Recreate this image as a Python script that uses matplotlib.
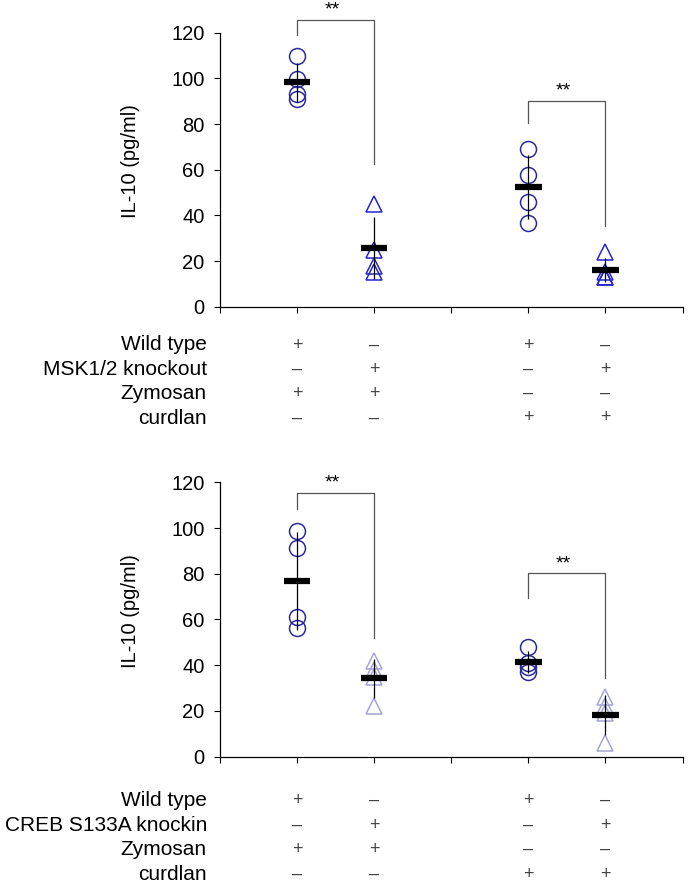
import numpy as np
import matplotlib.pyplot as plt
from matplotlib.transforms import blended_transform_factory

plt.rcParams['font.family'] = ['Liberation Sans', 'DejaVu Sans']

# group positions on the x axis
xpos = [1, 2, 4, 5]

# panel A: MSK1/2 knockout
top_wt_zym = [109.8, 99.9, 93.0, 90.8]
top_ko_zym = [45.0, 25.0, 18.0, 15.0]
top_wt_curd = [68.9, 57.7, 45.7, 36.8]
top_ko_curd = [24.0, 15.0, 13.0, 13.0]

# panel B: CREB S133A knockin
bot_wt_zym = [98.9, 91.2, 61.0, 56.2]
bot_ki_zym = [42.0, 38.0, 35.0, 22.0]
bot_wt_curd = [48.0, 41.0, 39.0, 37.0]
bot_ki_curd = [26.0, 22.0, 19.0, 6.0]

# significance brackets: (x_left, x_right, y_top, y_left_end, y_right_end)
top_brackets = [(1, 2, 125.6, 119.0, 62.5), (4, 5, 90.1, 80.6, 35.3)]
bot_brackets = [(1, 2, 115.5, 108.2, 51.8), (4, 5, 80.2, 69.4, 34.3)]

row_labels_top = ['Wild type', 'MSK1/2 knockout', 'Zymosan', 'curdlan']
row_labels_bot = ['Wild type', 'CREB S133A knockin', 'Zymosan', 'curdlan']
signs = [['+', '\u2013', '+', '\u2013'],
         ['\u2013', '+', '\u2013', '+'],
         ['+', '+', '\u2013', '\u2013'],
         ['\u2013', '\u2013', '+', '+']]

circle_col = '#2a2a9c'
tri_top_col = '#2424cc'
tri_bot_col = '#a4a4d6'

fig = plt.figure(figsize=(6.89, 8.88), dpi=100)
ax1 = fig.add_axes([0.3193, 0.6546, 0.6714, 0.3086])
ax2 = fig.add_axes([0.3193, 0.1479, 0.6714, 0.3090])


def draw_panel(ax, groups, markers, colors, brackets, labels, row_y):
    for x, vals, m, c in zip(xpos, groups, markers, colors):
        ax.plot([x] * len(vals), vals, linestyle='none', marker=m,
                markersize=11.5, markerfacecolor='none', markeredgecolor=c,
                markeredgewidth=1.1, zorder=2, clip_on=False)
        mean = np.mean(vals)
        sd = np.std(vals, ddof=1)
        ax.errorbar(x, mean, yerr=sd, fmt='none', ecolor='black',
                    elinewidth=0.9, capsize=0, zorder=3)
        ax.plot([x - 0.17, x + 0.17], [mean, mean], color='black',
                linewidth=4.5, solid_capstyle='butt', zorder=4)

    for x1, x2, ytop, yl, yr in brackets:
        ax.plot([x1, x1, x2, x2], [yl, ytop, ytop, yr], color='#555555',
                linewidth=0.9, clip_on=False, zorder=1)
        ax.text((x1 + x2) / 2 - 0.05, ytop + 0.5, '**', ha='center',
                va='bottom', fontsize=14, clip_on=False)

    ax.set_xlim(0, 6)
    ax.set_ylim(0, 120)
    ax.set_xticks(range(7))
    ax.set_xticklabels([])
    ax.set_yticks(range(0, 121, 20))
    ax.tick_params(axis='both', direction='out', length=4, width=0.8,
                   labelsize=14.5, pad=7)
    for s in ['top', 'right']:
        ax.spines[s].set_visible(False)
    for s in ['left', 'bottom']:
        ax.spines[s].set_linewidth(0.9)
    ax.set_ylabel('IL-10 (pg/ml)', fontsize=14.5)
    ax.yaxis.set_label_coords(-0.172, 0.53)

    trans = blended_transform_factory(ax.transData, fig.transFigure)
    for i, (lab, y) in enumerate(zip(labels, row_y)):
        fy = 1 - y / 888
        ax.text(-0.17, fy, lab, transform=trans, ha='right', va='center',
                fontsize=15)
        for x, sgn in zip(xpos, signs[i]):
            ax.text(x, fy, sgn, transform=trans, ha='center', va='center',
                    fontsize=13, color='#444444')


draw_panel(ax1, [top_wt_zym, top_ko_zym, top_wt_curd, top_ko_curd],
           ['o', '^', 'o', '^'],
           [circle_col, tri_top_col, circle_col, tri_top_col],
           top_brackets, row_labels_top, [345, 369, 393, 418])
draw_panel(ax2, [bot_wt_zym, bot_ki_zym, bot_wt_curd, bot_ki_curd],
           ['o', '^', 'o', '^'],
           [circle_col, tri_bot_col, circle_col, tri_bot_col],
           bot_brackets, row_labels_bot, [800, 825, 849, 874])

fig.savefig('out.png', dpi=100)
